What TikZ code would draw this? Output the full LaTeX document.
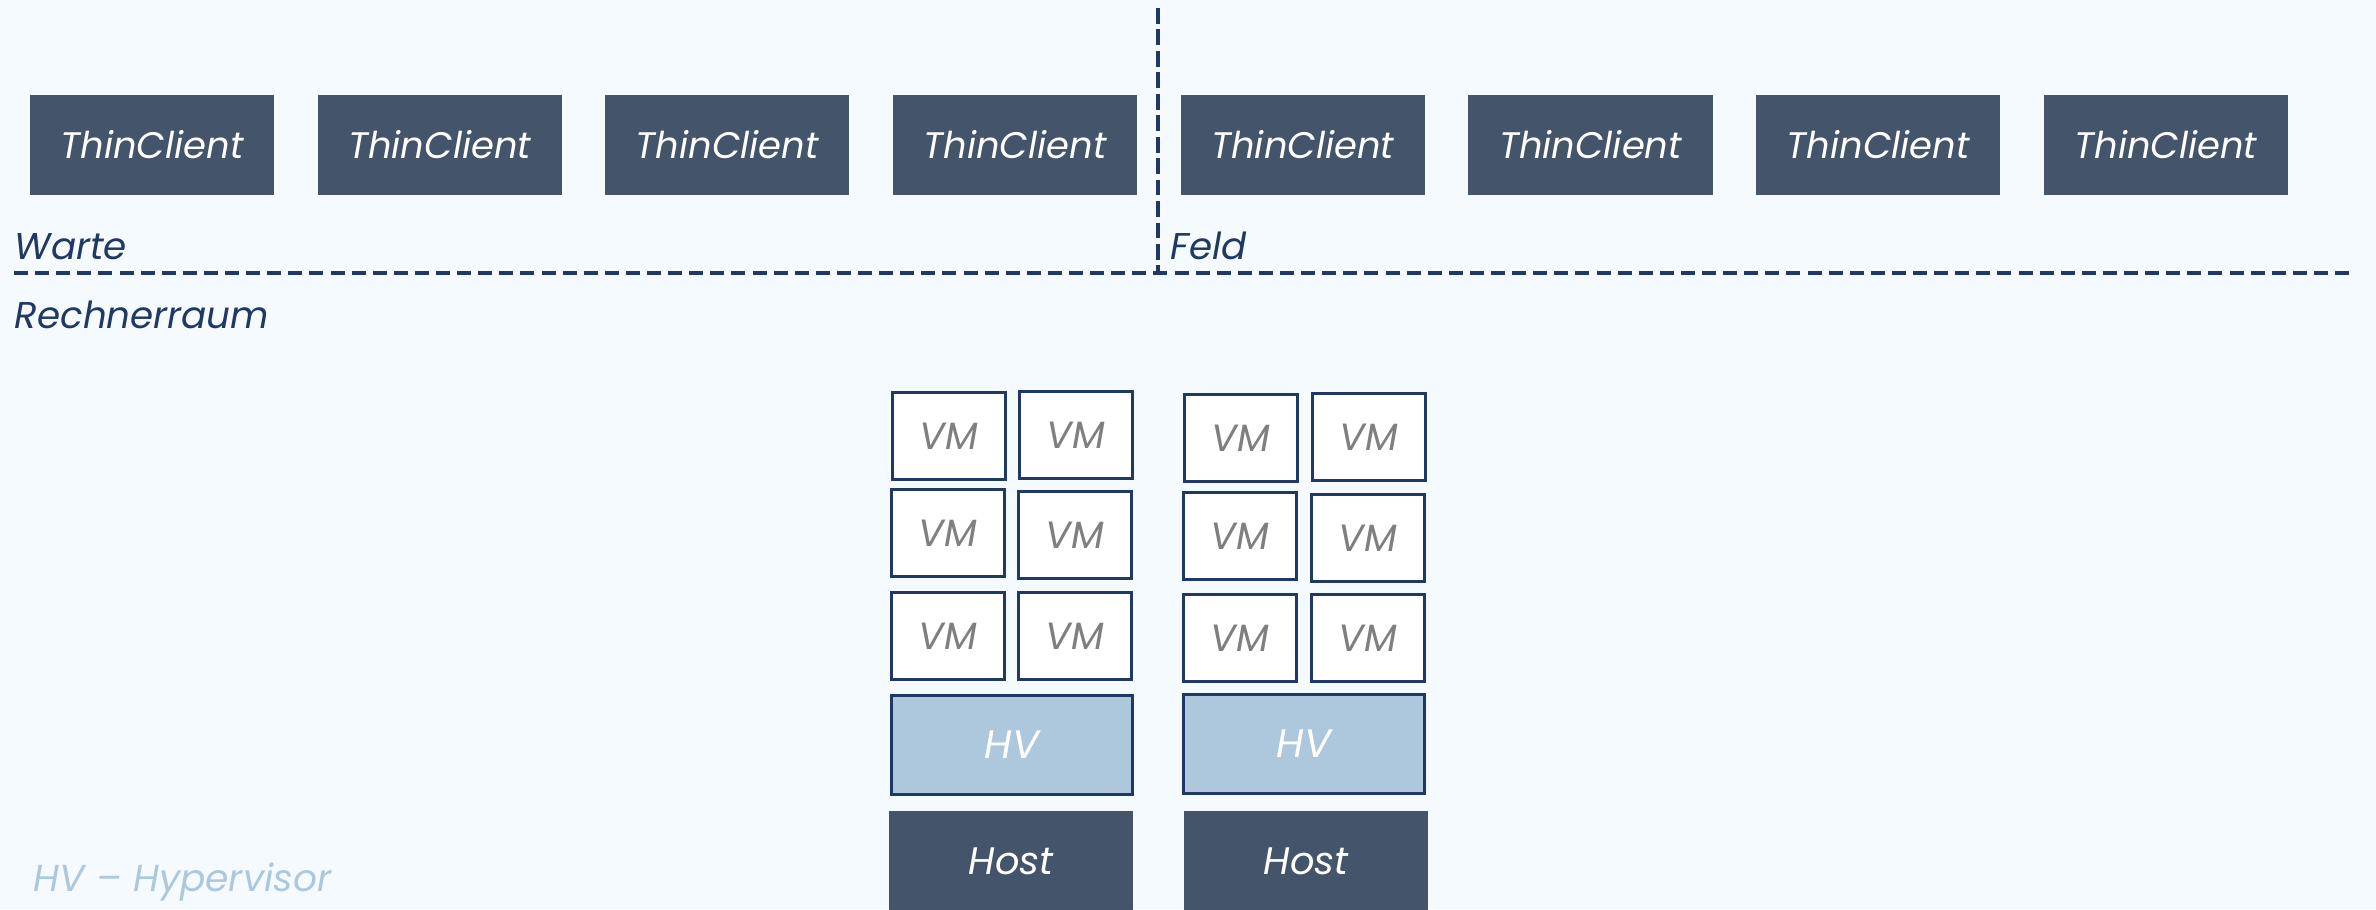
\documentclass[tikz,border=0pt]{standalone}
\usepackage{fontspec}
\setmainfont{Poppins}
\definecolor{bgblue}{HTML}{F5FAFE}
\definecolor{slate}{HTML}{44546A}
\definecolor{navy}{HTML}{203864}
\definecolor{paleblue}{HTML}{ADC8DC}
\definecolor{vmgray}{HTML}{7F7F7F}

\begin{document}
\begin{tikzpicture}[x=0.01cm, y=-0.01cm,
    client/.style={fill=slate, text=white, inner sep=0pt, minimum width=2.44cm, minimum height=1cm, font=\itshape\fontsize{10.5}{12}\selectfont},
    vm/.style={draw=navy, line width=0.7pt, fill=white, text=vmgray, inner sep=0pt, minimum width=1.13cm, minimum height=0.87cm, font=\itshape\fontsize{10.8}{13}\selectfont},
    hv/.style={draw=navy, line width=0.7pt, fill=paleblue, text=white, inner sep=0pt, minimum width=2.41cm, minimum height=0.99cm, font=\itshape\fontsize{11.3}{13}\selectfont},
    host/.style={fill=slate, text=white, inner sep=0pt, minimum width=2.44cm, minimum height=1cm, font=\itshape\fontsize{10.9}{13}\selectfont},
    area/.style={anchor=base west, inner sep=0pt, text=navy, font=\itshape\fontsize{10.6}{13}\selectfont}]

    \fill[bgblue] (0,0) rectangle (2376,909);
    \clip (0,0) rectangle (2376,909);

    % thin clients
    \foreach \i in {0,...,7} \node[client] (tc\i) at ({152+287.7*\i},145) {ThinClient};

    % separators
    \coordinate (vtop) at (1158,8);
    \coordinate (vbot) at (1158,273);
    \coordinate (hleft) at (14,273);
    \coordinate (hright) at (2356,273);
    \draw[navy, line width=1.25pt, dash pattern=on 4.5pt off 1.6pt] (vtop) -- (vbot);
    \draw[navy, line width=1.2pt, dash pattern=on 4pt off 2pt] (hleft) -- (hright);

    \node[area] (warte) at (14,259) {Warte};
    \node[area] (feld) at (1170,259) {Feld};
    \node[area] (rechner) at (14,328) {Rechnerraum};

    % host 1
    \node[vm] (vma1) at (949,436) {VM};
    \node[vm] (vma2) at (1076,435) {VM};
    \node[vm] (vma3) at (948,533) {VM};
    \node[vm] (vma4) at (1075,535) {VM};
    \node[vm] (vma5) at (948,636) {VM};
    \node[vm] (vma6) at (1075,636) {VM};
    \node[hv] (hva) at (1012,745) {HV};
    \node[host] (hosta) at (1011,861) {Host};

    % host 2
    \node[vm] (vmb1) at (1241,438) {VM};
    \node[vm] (vmb2) at (1369,437) {VM};
    \node[vm] (vmb3) at (1240,536) {VM};
    \node[vm] (vmb4) at (1368,538) {VM};
    \node[vm] (vmb5) at (1240,638) {VM};
    \node[vm] (vmb6) at (1368,638) {VM};
    \node[hv] (hvb) at (1304,744) {HV};
    \node[host] (hostb) at (1306,861) {Host};

    \node[area, text=paleblue, font=\itshape\fontsize{10.7}{13}\selectfont] (legend) at (33,891) {HV – Hypervisor};

\end{tikzpicture}
\end{document}
